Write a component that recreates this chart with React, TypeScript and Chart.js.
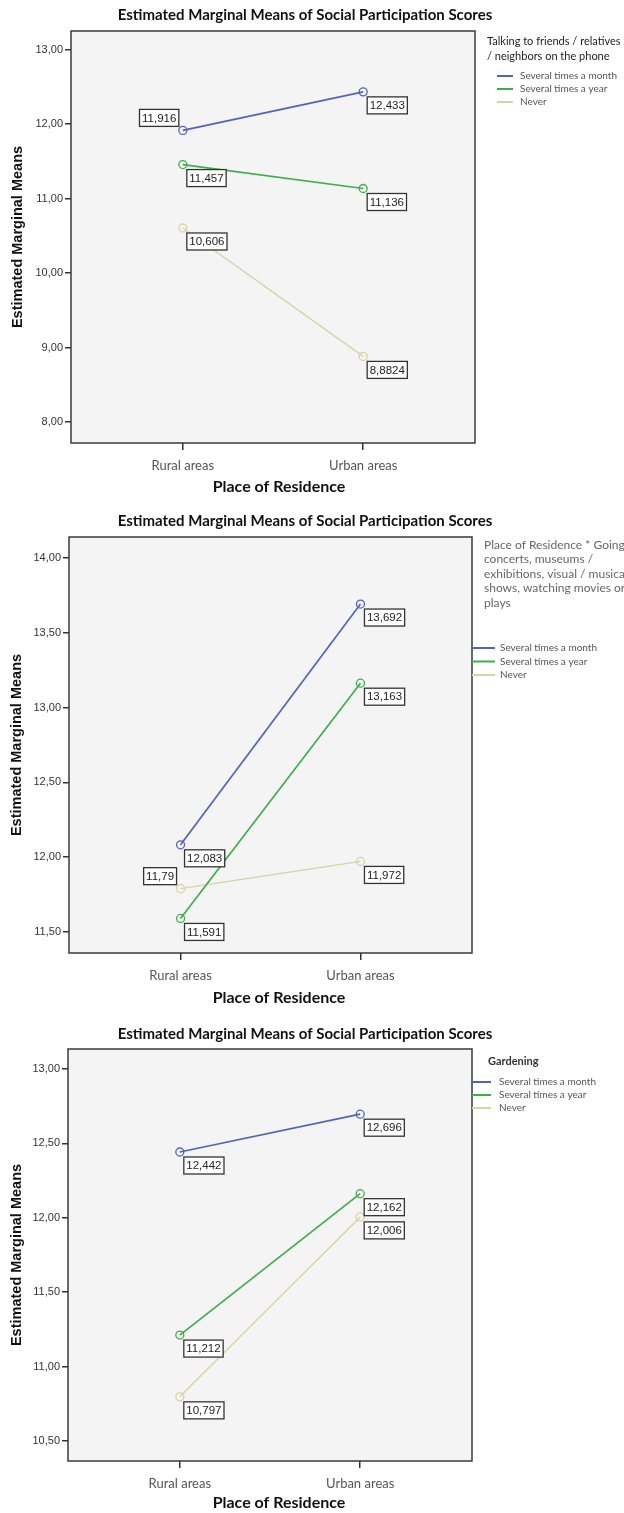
import React, { useEffect, useRef } from 'react';
import { Chart, registerables } from 'chart.js';

Chart.register(...registerables);

// ---------- shared text ----------
const places = ['Rural areas', 'Urban areas'];
const placeIndex = [0, 1];
const seriesNames = ['Several times a month', 'Several times a year', 'Never'];
const seriesColors = ['#5064b9', '#3eae4c', '#d8d39f'];
const mainTitle = 'Estimated Marginal Means of Social Participation Scores';
const xAxisTitle = 'Place of Residence';
const yAxisTitle = 'Estimated Marginal Means';

// ---------- chart 1: talking on the phone ----------
const phoneLegendTitle = ['Talking to friends / relatives', '/ neighbors on the phone'];
const phoneMonthly = [11.916, 12.433];
const phoneYearly = [11.457, 11.136];
const phoneNever = [10.606, 8.8824];
const phoneTicks = [8, 9, 10, 11, 12, 13];
const phoneLabelSides = [['tl', 'br'], ['br', 'br'], ['br', 'br']];

// ---------- chart 2: culture ----------
const cultureLegendTitle = [
  'Place of Residence * Going to',
  'concerts, museums /',
  'exhibitions, visual / musical',
  'shows, watching movies or',
  'plays',
];
const cultureMonthly = [12.083, 13.692];
const cultureYearly = [11.591, 13.163];
const cultureNever = [11.79, 11.972];
const cultureTicks = [11.5, 12, 12.5, 13, 13.5, 14];
const cultureLabelSides = [['br', 'br'], ['br', 'br'], ['tl', 'br']];

// ---------- chart 3: gardening ----------
const gardenLegendTitle = ['Gardening'];
const gardenMonthly = [12.442, 12.696];
const gardenYearly = [11.212, 12.162];
const gardenNever = [10.797, 12.006];
const gardenTicks = [10.5, 11, 11.5, 12, 12.5, 13];
const gardenLabelSides = [['br', 'br'], ['br', 'br'], ['br', 'br']];

const fmtValue = (v: number) => String(v).replace('.', ',');
const fmtTick = (v: number) => Number(v).toFixed(2).replace('.', ',');

const CALIBRI = 'Lato, "Open Sans", sans-serif';
const ARIAL = '"Liberation Sans", Arial, sans-serif';

type Spec = {
  top: number;
  height: number;
  area: { l: number; t: number; r: number; b: number };
  yMin: number;
  yMax: number;
  yTicks: number[];
  series: number[][];
  sides: string[][];
  titleY: number;
  xTitleY: number;
  yTitleX: number;
  legendTitle: string[];
  legendTitleX: number;
  legendTitleY0: number;
  legendTitleStep: number;
  legendTitleFont: string;
  legendTitleColor: string;
  itemY0: number;
  itemStep: number;
  lineX0: number;
  lineX1: number;
  textX: number;
  itemFont: string;
};

const specs: Spec[] = [
  {
    top: 0,
    height: 505,
    area: { l: 71, t: 31, r: 475, b: 443 },
    yMin: 7.72,
    yMax: 13.25,
    yTicks: phoneTicks,
    series: [phoneMonthly, phoneYearly, phoneNever],
    sides: phoneLabelSides,
    titleY: 15,
    xTitleY: 487,
    yTitleX: 18,
    legendTitle: phoneLegendTitle,
    legendTitleX: 487,
    legendTitleY0: 41,
    legendTitleStep: 15,
    legendTitleFont: `11px ${CALIBRI}`,
    legendTitleColor: '#222',
    itemY0: 76,
    itemStep: 13,
    lineX0: 497,
    lineX1: 513,
    textX: 520,
    itemFont: `10px ${CALIBRI}`,
  },
  {
    top: 505,
    height: 510,
    area: { l: 69, t: 32, r: 472, b: 448 },
    yMin: 11.36,
    yMax: 14.14,
    yTicks: cultureTicks,
    series: [cultureMonthly, cultureYearly, cultureNever],
    sides: cultureLabelSides,
    titleY: 16,
    xTitleY: 493,
    yTitleX: 17,
    legendTitle: cultureLegendTitle,
    legendTitleX: 484,
    legendTitleY0: 40,
    legendTitleStep: 14.5,
    legendTitleFont: `12px ${CALIBRI}`,
    legendTitleColor: '#666',
    itemY0: 143,
    itemStep: 13.5,
    lineX0: 472,
    lineX1: 495,
    textX: 500,
    itemFont: `10px ${CALIBRI}`,
  },
  {
    top: 1015,
    height: 498,
    area: { l: 68, t: 34, r: 472, b: 446 },
    yMin: 10.366,
    yMax: 13.134,
    yTicks: gardenTicks,
    series: [gardenMonthly, gardenYearly, gardenNever],
    sides: gardenLabelSides,
    titleY: 19,
    xTitleY: 488,
    yTitleX: 17,
    legendTitle: gardenLegendTitle,
    legendTitleX: 488,
    legendTitleY0: 46,
    legendTitleStep: 14,
    legendTitleFont: `bold 11px ${CALIBRI}`,
    legendTitleColor: '#333',
    itemY0: 67,
    itemStep: 13,
    lineX0: 472,
    lineX1: 491,
    textX: 499,
    itemFont: `10px ${CALIBRI}`,
  },
];

function makePlugin(spec: Spec) {
  return {
    id: 'spssDecor',
    beforeDatasetsDraw(chart: any) {
      const { ctx, chartArea: a } = chart;
      ctx.save();
      ctx.fillStyle = '#f4f4f4';
      ctx.fillRect(a.left, a.top, a.right - a.left, a.bottom - a.top);
      ctx.restore();
    },
    afterDatasetsDraw(chart: any) {
      const ctx = chart.ctx;
      ctx.save();
      ctx.font = `11.5px ${ARIAL}`;
      chart.data.datasets.forEach((ds: any, di: number) => {
        const meta = chart.getDatasetMeta(di);
        meta.data.forEach((pt: any, pi: number) => {
          const txt = fmtValue(ds.data[pi].y);
          const w = ctx.measureText(txt).width + 5;
          const h = 17;
          const side = spec.sides[di][pi];
          let bx: number, by: number;
          if (side === 'br') {
            bx = pt.x + 4;
            by = pt.y + 5;
          } else {
            bx = pt.x - 4 - w;
            by = pt.y - 4 - h;
          }
          ctx.fillStyle = '#ffffff';
          ctx.fillRect(bx, by, w, h);
          ctx.strokeStyle = '#333';
          ctx.lineWidth = 1.3;
          ctx.strokeRect(bx, by, w, h);
          ctx.fillStyle = '#222';
          ctx.textBaseline = 'middle';
          ctx.textAlign = 'left';
          ctx.fillText(txt, bx + 2.5, by + h / 2 + 0.5);
        });
      });
      ctx.restore();
    },
    afterDraw(chart: any) {
      const { ctx, chartArea: a } = chart;
      ctx.save();
      // frame
      ctx.strokeStyle = '#3a3a3a';
      ctx.lineWidth = 1.5;
      ctx.strokeRect(a.left, a.top, a.right - a.left, a.bottom - a.top);
      // main title
      ctx.fillStyle = '#111';
      ctx.textAlign = 'center';
      ctx.textBaseline = 'middle';
      ctx.font = `bold 15px ${CALIBRI}`;
      ctx.fillText(mainTitle, 305, spec.titleY);
      // x title
      ctx.font = `bold 16px ${CALIBRI}`;
      ctx.fillText(xAxisTitle, 279, spec.xTitleY);
      // y title
      ctx.save();
      ctx.translate(spec.yTitleX, (a.top + a.bottom) / 2);
      ctx.rotate(-Math.PI / 2);
      ctx.font = `bold 14.5px ${ARIAL}`;
      ctx.fillText(yAxisTitle, 0, 0);
      ctx.restore();
      // legend
      ctx.textAlign = 'left';
      ctx.font = spec.legendTitleFont;
      ctx.fillStyle = spec.legendTitleColor;
      spec.legendTitle.forEach((line, i) => {
        ctx.fillText(line, spec.legendTitleX, spec.legendTitleY0 + i * spec.legendTitleStep);
      });
      ctx.font = spec.itemFont;
      seriesNames.forEach((name, i) => {
        const y = spec.itemY0 + i * spec.itemStep;
        ctx.strokeStyle = seriesColors[i];
        ctx.lineWidth = 2;
        ctx.beginPath();
        ctx.moveTo(spec.lineX0, y);
        ctx.lineTo(spec.lineX1, y);
        ctx.stroke();
        ctx.fillStyle = '#555';
        ctx.fillText(name, spec.textX, y);
      });
      ctx.restore();
    },
  };
}

function EmmChart({ spec }: { spec: Spec }) {
  const ref = useRef<HTMLCanvasElement>(null);
  useEffect(() => {
    const W = 624;
    const H = spec.height;
    const a = spec.area;
    const chart = new Chart(ref.current as HTMLCanvasElement, {
      type: 'line',
      data: {
        datasets: spec.series.map((vals, si) => ({
          label: seriesNames[si],
          data: vals.map((v, i) => ({ x: placeIndex[i], y: v })),
          borderColor: seriesColors[si],
          borderWidth: si === 2 ? 1.4 : 1.7,
          pointRadius: 4,
          pointBorderWidth: 1.3,
          pointBorderColor: seriesColors[si],
          pointBackgroundColor: 'rgba(0,0,0,0)',
          fill: false,
          tension: 0,
          clip: false as any,
        })),
      },
      options: {
        animation: false,
        responsive: false,
        devicePixelRatio: 1,
        events: [],
        layout: { padding: { left: 0, top: a.t, right: W - a.r, bottom: 0 } },
        plugins: { legend: { display: false }, tooltip: { enabled: false }, title: { display: false } },
        scales: {
          x: {
            type: 'linear',
            min: -0.62,
            max: 1.62,
            afterBuildTicks: (s: any) => {
              s.ticks = placeIndex.map((v) => ({ value: v }));
            },
            afterFit: (s: any) => {
              s.height = H - a.b;
            },
            ticks: {
              callback: (v: any) => places[Number(v)],
              font: { family: CALIBRI, size: 13 },
              color: '#555',
              padding: 8,
              autoSkip: false,
              maxRotation: 0,
            },
            grid: { drawOnChartArea: false, drawTicks: true, tickLength: 7, color: '#333', lineWidth: 1.5 },
            border: { display: false },
          },
          y: {
            type: 'linear',
            min: spec.yMin,
            max: spec.yMax,
            afterBuildTicks: (s: any) => {
              s.ticks = spec.yTicks.map((v) => ({ value: v }));
            },
            afterFit: (s: any) => {
              s.width = a.l;
            },
            ticks: {
              callback: (v: any) => fmtTick(Number(v)),
              font: { family: ARIAL, size: 11 },
              color: '#333',
              padding: 2,
              autoSkip: false,
            },
            grid: { drawOnChartArea: false, drawTicks: true, tickLength: 6, color: '#333', lineWidth: 1.5 },
            border: { display: false },
          },
        },
      } as any,
      plugins: [makePlugin(spec)],
    });
    return () => chart.destroy();
  }, [spec]);
  return (
    <div style={{ position: 'absolute', left: 0, top: spec.top, width: 624, height: spec.height }}>
      <canvas ref={ref} width={624} height={spec.height} style={{ display: 'block' }} />
    </div>
  );
}

export default function App() {
  return (
    <div style={{ position: 'absolute', left: 0, top: 0, width: 624, height: 1513, background: '#fff' }}>
      {specs.map((s, i) => (
        <EmmChart key={i} spec={s} />
      ))}
    </div>
  );
}
